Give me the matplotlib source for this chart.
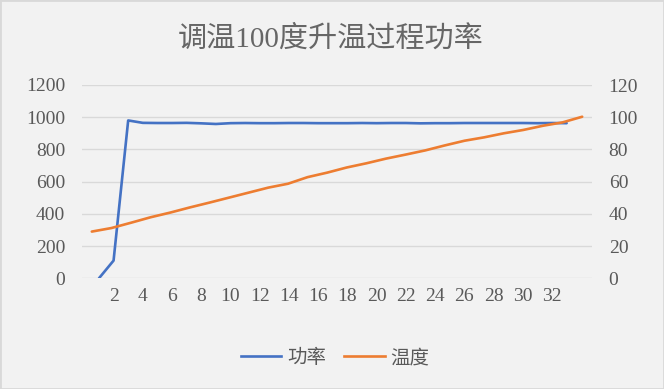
import matplotlib
matplotlib.use("Agg")
import matplotlib.pyplot as plt
from matplotlib.lines import Line2D
from matplotlib.patches import Rectangle

title = '调温100度升温过程功率'
labels = ['功率', '温度']

# power series (primary axis), one value per category
power_x = list(range(1, 34))
power = [0, 110, 980, 965, 964, 964, 965, 962, 958, 963,
         964, 963, 963, 964, 964, 963, 963, 963, 964, 963,
         964, 964, 962, 963, 963, 964, 964, 964, 964, 964,
         963, 964, 963]

# temperature series (secondary axes)
temp_x = list(range(1, 27))
temp = [29.0, 31.2, 34.5, 37.9, 40.8, 44.0, 47.0, 50.1, 53.2, 56.3,
        58.7, 62.8, 65.6, 68.8, 71.4, 74.3, 76.8, 79.4, 82.5, 85.4,
        87.5, 90.0, 92.1, 94.7, 96.8, 100.3]

x_ticks = [2, 4, 6, 8, 10, 12, 14, 16, 18, 20, 22, 24, 26, 28, 30, 32]
power_ticks = [0, 200, 400, 600, 800, 1000, 1200]
temp_ticks = [0, 20, 40, 60, 80, 100, 120]

blue = '#4472C4'
orange = '#ED7D31'
grey_txt = '#595959'
grid_c = '#D9D9D9'
bg = '#F2F2F2'

plt.rcParams['font.family'] = ['Liberation Serif', 'Noto Sans CJK SC']

W, H = 664, 389
fig = plt.figure(figsize=(W / 100, H / 100), dpi=100, facecolor=bg)

ax = fig.add_axes([82 / W, 110.7 / H, 510 / W, 193.3 / H])
ax.set_facecolor('none')
ax.plot(power_x, power, color=blue, lw=1.9,
        solid_joinstyle='round', solid_capstyle='round')
ax.set_xlim(-0.16, 34.735)
ax.set_ylim(0, 1200)
ax.set_xticks(x_ticks)
ax.set_yticks(power_ticks)
ax.grid(axis='y', color=grid_c, lw=1)
ax.set_axisbelow(True)
ax.tick_params(axis='both', length=0, labelsize=14, labelcolor=grey_txt)
ax.tick_params(axis='y', pad=12)
ax.tick_params(axis='x', pad=7)
for s in ax.spines.values():
    s.set_visible(False)

ax2 = ax.twinx()
ax2.set_ylim(0, 120)
ax2.set_yticks(temp_ticks)
ax2.tick_params(axis='y', length=0, labelsize=14, labelcolor=grey_txt, pad=12)
for s in ax2.spines.values():
    s.set_visible(False)

# orange series has its own (hidden) horizontal axis
ax3 = ax2.twiny()
ax3.plot(temp_x, temp, color=orange, lw=1.9,
         solid_joinstyle='round', solid_capstyle='round')
ax3.set_xlim(0.5, 26.5)
ax3.set_xticks([])
for s in ax3.spines.values():
    s.set_visible(False)

fig.text(331 / W, 1 - 39 / H, title, fontsize=21, color='#666666',
         fontweight='light', ha='center', va='center')

handles = [Line2D([], [], color=blue, lw=1.9),
           Line2D([], [], color=orange, lw=1.9)]
leg = fig.legend(handles, labels, loc='center', ncol=2, frameon=False,
                 bbox_to_anchor=(335 / W, 1 - 358 / H), fontsize=14,
                 handlelength=2.1, handletextpad=0.3, columnspacing=0.9)
for t in leg.get_texts():
    t.set_color(grey_txt)

fig.patches.append(Rectangle((0, 0), 1, 1, transform=fig.transFigure,
                             fill=False, edgecolor=grid_c, lw=2))

fig.savefig('out.png', dpi=100, facecolor=bg)
